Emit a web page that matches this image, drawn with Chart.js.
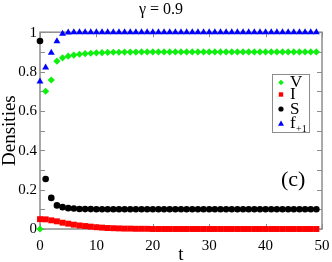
<!DOCTYPE html>
<html>
<head>
<meta charset="utf-8">
<script src="https://cdn.jsdelivr.net/npm/chart.js@4"></script>
<style>
  body { margin: 0; background: #fff; }
  #wrap { width: 332px; height: 262px; }
</style>
</head>
<body>
<div id="wrap"><canvas id="chart"></canvas></div>
<script>
// Data
const tValues = [0, 1, 2, 3, 4, 5, 6, 7, 8, 9, 10, 11, 12, 13, 14, 15, 16, 17, 18, 19,
  20, 21, 22, 23, 24, 25, 26, 27, 28, 29, 30, 31, 32, 33, 34, 35, 36, 37, 38, 39,
  40, 41, 42, 43, 44, 45, 46, 47, 48, 49];
const vValues = [0, 0.70, 0.757, 0.853, 0.870, 0.878, 0.884, 0.888, 0.891, 0.893,
  0.895, 0.896, 0.897, 0.898, 0.898, 0.899, 0.899, 0.899, 0.9, 0.9,
  0.9, 0.9, 0.9, 0.9, 0.9, 0.9, 0.9, 0.9, 0.9, 0.9,
  0.9, 0.9, 0.9, 0.9, 0.9, 0.9, 0.9, 0.9, 0.9, 0.9,
  0.9, 0.9, 0.9, 0.9, 0.9, 0.9, 0.9, 0.9, 0.9, 0.9];
const iValues = [0.05, 0.049, 0.044, 0.039, 0.032, 0.027, 0.022, 0.018, 0.015, 0.012,
  0.009, 0.007, 0.005, 0.004, 0.003, 0.002, 0.002, 0.001, 0.001, 0.001,
  0, 0, 0, 0, 0, 0, 0, 0, 0, 0,
  0, 0, 0, 0, 0, 0, 0, 0, 0, 0,
  0, 0, 0, 0, 0, 0, 0, 0, 0, 0];
const sValues = [0.955, 0.254, 0.158, 0.12, 0.111, 0.106, 0.104, 0.102, 0.101, 0.101,
  0.1, 0.1, 0.1, 0.1, 0.1, 0.1, 0.1, 0.1, 0.1, 0.1,
  0.1, 0.1, 0.1, 0.1, 0.1, 0.1, 0.1, 0.1, 0.1, 0.1,
  0.1, 0.1, 0.1, 0.1, 0.1, 0.1, 0.1, 0.1, 0.1, 0.1,
  0.1, 0.1, 0.1, 0.1, 0.1, 0.1, 0.1, 0.1, 0.1, 0.1];
const fValues = [0.75, 0.82, 0.895, 0.954, 0.992, 0.999, 1, 1, 1, 1,
  1, 1, 1, 1, 1, 1, 1, 1, 1, 1,
  1, 1, 1, 1, 1, 1, 1, 1, 1, 1,
  1, 1, 1, 1, 1, 1, 1, 1, 1, 1,
  1, 1, 1, 1, 1, 1, 1, 1, 1, 1];
const xTicks = [0, 10, 20, 30, 40, 50];
const yTicks = [0, 0.2, 0.4, 0.6, 0.8, 1];
const yTickLabels = ['0', '0.2', '0.4', '0.6', '0.8', '1'];
const yMinorTicks = [0.1, 0.3, 0.5, 0.7, 0.9];

const SERIF = '"Liberation Serif", "DejaVu Serif", serif';
const AXIS_GRAY = '#8c8c8c';

const toPoints = (ys) => tValues.map((t, i) => ({ x: t, y: ys[i] }));

const series = [
  { label: 'V', data: vValues, color: '#10f010', style: 'rectRot', radius: 3.6 },
  { label: 'I', data: iValues, color: '#ff0000', style: 'rect', radius: 4.2 },
  { label: 'S', data: sValues, color: '#000000', style: 'circle', radius: 3.3 },
  { label: 'f', sub: '+1', data: fValues, color: '#0000ff', style: 'triangle', radius: 4 }
];

// frame with inward ticks, drawn from the scales
const framePlugin = {
  id: 'frame',
  beforeDatasetsDraw(chart) {
    const { ctx, chartArea: a, scales: { x, y } } = chart;
    ctx.save();
    ctx.strokeStyle = AXIS_GRAY;
    ctx.lineWidth = 1.5;
    ctx.strokeRect(a.left, a.top, a.right - a.left, a.bottom - a.top);
    ctx.lineWidth = 1;
    ctx.beginPath();
    xTicks.forEach(v => {
      const px = Math.round(x.getPixelForValue(v)) + 0.5;
      ctx.moveTo(px, a.bottom); ctx.lineTo(px, a.bottom - 5);
      ctx.moveTo(px, a.top); ctx.lineTo(px, a.top + 5);
    });
    yTicks.concat(yMinorTicks).forEach(v => {
      const py = Math.round(y.getPixelForValue(v)) + 0.5;
      ctx.moveTo(a.left, py); ctx.lineTo(a.left + 5, py);
      ctx.moveTo(a.right, py); ctx.lineTo(a.right - 5, py);
    });
    ctx.stroke();

    // y tick labels
    ctx.fillStyle = '#000';
    ctx.font = '15px ' + SERIF;
    ctx.textAlign = 'right';
    ctx.textBaseline = 'middle';
    yTicks.forEach((v, i) => {
      ctx.fillText(yTickLabels[i], a.left - 3, y.getPixelForValue(v) + 0.5);
    });
    ctx.restore();
  },
  afterDraw(chart) {
    const { ctx, chartArea: a } = chart;
    ctx.save();
    ctx.fillStyle = '#000';
    ctx.textBaseline = 'alphabetic';

    // axis titles
    ctx.font = '19px ' + SERIF;
    ctx.textAlign = 'center';
    ctx.fillText('t', (a.left + a.right) / 2, 260);
    ctx.save();
    ctx.translate(15, (a.top + a.bottom) / 2);
    ctx.rotate(-Math.PI / 2);
    ctx.fillText('Densities', 0, 0);
    ctx.restore();

    // legend box
    ctx.strokeStyle = AXIS_GRAY;
    ctx.lineWidth = 1;
    ctx.strokeRect(272.5, 74.5, 37, 58);
    const rows = [82.5, 94.5, 109, 123.5];
    series.forEach((s, i) => {
      const cy = rows[i], cx = 281;
      ctx.fillStyle = s.color;
      ctx.beginPath();
      if (s.style === 'rectRot') {
        ctx.moveTo(cx, cy - 2.8); ctx.lineTo(cx + 2.8, cy); ctx.lineTo(cx, cy + 2.8); ctx.lineTo(cx - 2.8, cy);
      } else if (s.style === 'rect') {
        ctx.rect(cx - 2.2, cy - 2.2, 4.4, 4.4);
      } else if (s.style === 'circle') {
        ctx.arc(cx, cy, 2.6, 0, Math.PI * 2);
      } else {
        ctx.moveTo(cx, cy - 3); ctx.lineTo(cx + 3, cy + 2.2); ctx.lineTo(cx - 3, cy + 2.2);
      }
      ctx.closePath();
      ctx.fill();
      ctx.fillStyle = '#000';
      ctx.font = '17px ' + SERIF;
      ctx.textAlign = 'left';
      ctx.fillText(s.label, 290, cy + 4.5);
      if (s.sub) {
        ctx.font = '10px ' + SERIF;
        ctx.fillText(s.sub, 296, cy + 8.5);
      }
    });
    // panel tag
    ctx.font = '22px ' + SERIF;
    ctx.fillStyle = '#000';
    ctx.textAlign = 'left';
    ctx.fillText('(c)', 281, 186);
    ctx.restore();
  }
};

new Chart(document.getElementById('chart'), {
  type: 'scatter',
  data: {
    datasets: series.map(s => ({
      label: s.label,
      data: toPoints(s.data),
      pointStyle: s.style,
      pointRadius: s.radius,
      pointHoverRadius: s.radius,
      pointBackgroundColor: s.color,
      pointBorderColor: s.color,
      pointBorderWidth: 0,
      showLine: false,
      clip: false
    }))
  },
  options: {
    responsive: true,
    maintainAspectRatio: false,
    animation: false,
    events: [],
    layout: { padding: { left: 0, right: 10, top: 0, bottom: 0 } },
    plugins: {
      legend: { display: false },
      tooltip: { enabled: false },
      title: {
        display: true,
        text: 'γ = 0.9',
        color: '#000',
        font: { family: SERIF, size: 16, weight: 'normal', lineHeight: 1.2 },
        padding: { top: 0, bottom: 13 }
      }
    },
    scales: {
      x: {
        type: 'linear',
        min: 0,
        max: 50,
        afterBuildTicks: (scale) => { scale.ticks = xTicks.map(v => ({ value: v })); },
        afterFit: (scale) => { scale.height = 33; },
        grid: { display: false },
        border: { display: false },
        ticks: {
          autoSkip: false,
          maxRotation: 0,
          padding: 0,
          color: '#000',
          font: { family: SERIF, size: 15 },
          callback: (v) => String(v)
        }
      },
      y: {
        type: 'linear',
        min: 0,
        max: 1,
        afterBuildTicks: (scale) => { scale.ticks = yTicks.map(v => ({ value: v })); },
        afterFit: (scale) => { scale.width = 40; },
        grid: { display: false },
        border: { display: false },
        ticks: { display: false }
      }
    }
  },
  plugins: [framePlugin]
});
</script>
</body>
</html>
